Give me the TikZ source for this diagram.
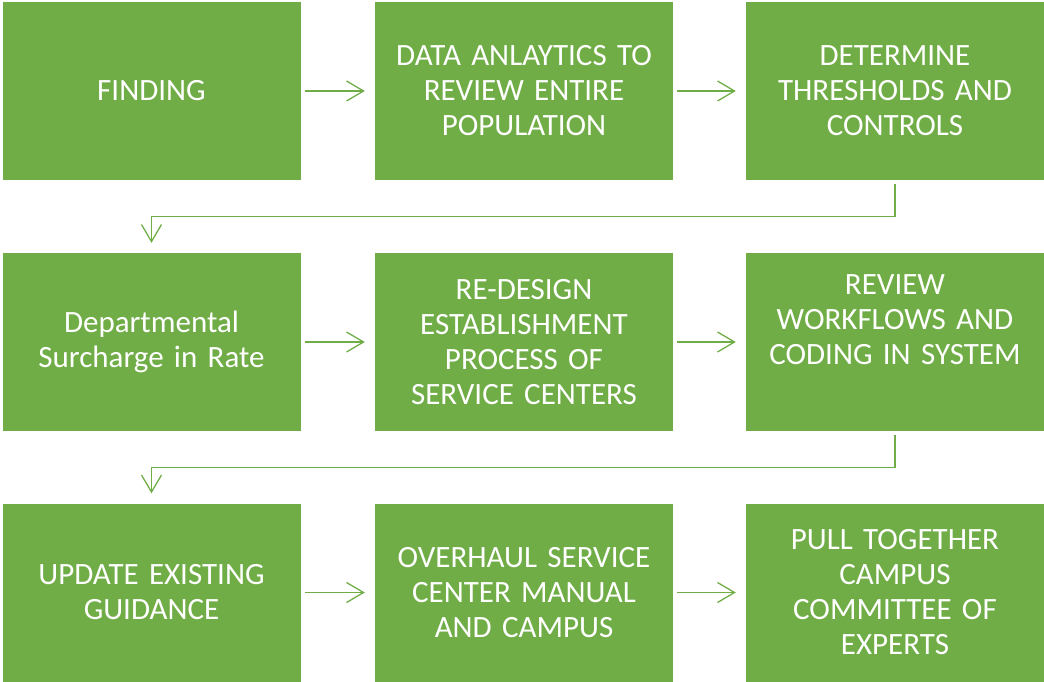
\documentclass[tikz,border=0pt]{standalone}
\usepackage{fontspec}
\setmainfont{Carlito}
\usetikzlibrary{arrows.meta}
\definecolor{boxgreen}{HTML}{70AD47}
\begin{document}
\begin{tikzpicture}[x=1pt,y=-1pt,
  stepbox/.style={fill=boxgreen, draw=none, minimum width=298pt, minimum height=178pt,
    text=white, align=center, text width=290pt, inner sep=0pt,
    font=\fontsize{31}{35}\selectfont},
  conn/.style={draw=boxgreen, line width=1.3pt,
    -{Straight Barb[length=17pt,width=20pt,line width=1.3pt]},
    shorten <=4pt, shorten >=10pt}]
\useasboundingbox (0,0) rectangle (1044,682);
\node[stepbox] (b1) at (151.5,91) {FINDING};
\node[stepbox] (b2) at (524,91) {DATA ANLAYTICS TO\\REVIEW ENTIRE\\POPULATION};
\node[stepbox] (b3) at (895,91) {DETERMINE\\THRESHOLDS AND\\CONTROLS};
\node[stepbox] (b4) at (151.5,342) {Departmental\\Surcharge in Rate};
\node[stepbox] (b5) at (524,342) {RE-DESIGN\\ESTABLISHMENT\\PROCESS OF\\SERVICE CENTERS};
\node[stepbox] (b6) at (895,342) {REVIEW\\WORKFLOWS AND\\CODING IN SYSTEM\\\strut};
\node[stepbox] (b7) at (151.5,592.5) {UPDATE EXISTING\\GUIDANCE};
\node[stepbox] (b8) at (524,592.5) {OVERHAUL SERVICE\\CENTER MANUAL\\AND CAMPUS};
\node[stepbox] (b9) at (895,592.5) {PULL TOGETHER\\CAMPUS\\COMMITTEE OF\\EXPERTS};
\draw[conn] (b1.east) -- (b2.west);
\draw[conn] (b2.east) -- (b3.west);
\draw[conn] (b4.east) -- (b5.west);
\draw[conn] (b5.east) -- (b6.west);
\draw[conn] (b7.east) -- (b8.west);
\draw[conn] (b8.east) -- (b9.west);
\draw[conn] (b3.south) -- ++(0,36) -| (b4.north);
\draw[conn] (b6.south) -- ++(0,36) -| (b7.north);
\end{tikzpicture}
\end{document}
